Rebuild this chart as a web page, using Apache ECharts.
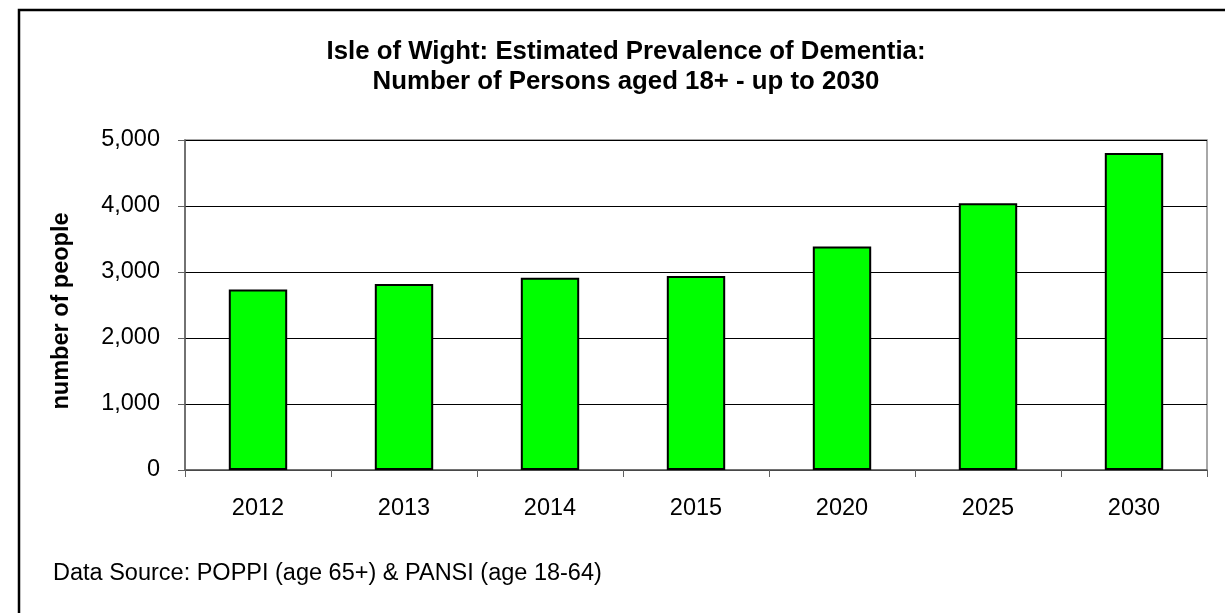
<!DOCTYPE html>
<html>
<head>
<meta charset="utf-8">
<script src="https://cdn.jsdelivr.net/npm/echarts@6/dist/echarts.min.js"></script>
<style>
html,body{margin:0;padding:0;background:#fff;}
#chart{width:1225px;height:613px;}
</style>
</head>
<body>
<div id="chart"></div>
<script>
var categories = ['2012', '2013', '2014', '2015', '2020', '2025', '2030'];
var persons = [2735, 2820, 2911, 2941, 3386, 4042, 4803];
var titleLines = ['Isle of Wight: Estimated Prevalence of Dementia:', 'Number of Persons aged 18+ - up to 2030'];
var yAxisName = 'number of people';
var sourceNote = 'Data Source: POPPI (age 65+) & PANSI (age 18-64)';

var FONT = '"Liberation Sans", Arial, sans-serif';
var chart = echarts.init(document.getElementById('chart'));
chart.setOption({
  animation: false,
  backgroundColor: '#ffffff',
  grid: {
    left: 185, top: 140, right: 18, bottom: 143,
    show: true, borderColor: '#8c8c8c', borderWidth: 1.5, backgroundColor: 'transparent'
  },
  xAxis: {
    type: 'category',
    data: categories,
    axisLine: { lineStyle: { color: '#606060', width: 1.5 } },
    axisTick: { show: true, length: 7, lineStyle: { color: '#606060', width: 1 } },
    axisLabel: { color: '#000', fontFamily: FONT, fontSize: 23.5, margin: 27 },
    splitLine: { show: false }
  },
  yAxis: {
    type: 'value',
    min: 0, max: 5000, interval: 1000,
    name: yAxisName,
    nameLocation: 'middle',
    nameRotate: 90,
    nameGap: 111,
    nameTextStyle: { color: '#000', fontFamily: FONT, fontSize: 23.5, fontWeight: 'bold', padding: [0, 12, 0, 0] },
    axisLine: { show: true, lineStyle: { color: '#606060', width: 1.5 } },
    axisTick: { show: true, length: 7, lineStyle: { color: '#606060', width: 1 } },
    axisLabel: {
      color: '#000', fontFamily: FONT, fontSize: 23.5, margin: 25,
      formatter: function (v) { return v.toLocaleString('en-US'); }
    },
    splitLine: { show: true, lineStyle: { color: '#000', width: 1 } }
  },
  series: [{
    type: 'bar',
    data: persons,
    barWidth: '40%',
    itemStyle: { color: '#00ff00', borderColor: '#000', borderWidth: 2 }
  }],
  graphic: [
    { type: 'rect', silent: true, z: 100,
      shape: { x: 19, y: 10, width: 1400, height: 800 },
      style: { fill: 'none', stroke: '#000', lineWidth: 2.5 } },
    { type: 'text', x: 626, y: 52, z: 100,
      style: { text: titleLines[0], font: 'bold 25.8px ' + FONT, fill: '#000', textAlign: 'center', textVerticalAlign: 'middle' } },
    { type: 'text', x: 626, y: 82, z: 100,
      style: { text: titleLines[1], font: 'bold 25.8px ' + FONT, fill: '#000', textAlign: 'center', textVerticalAlign: 'middle' } },
    { type: 'text', x: 53, y: 574, z: 100,
      style: { text: sourceNote, font: '23.5px ' + FONT, fill: '#000', textAlign: 'left', textVerticalAlign: 'middle' } }
  ]
});
</script>
</body>
</html>
